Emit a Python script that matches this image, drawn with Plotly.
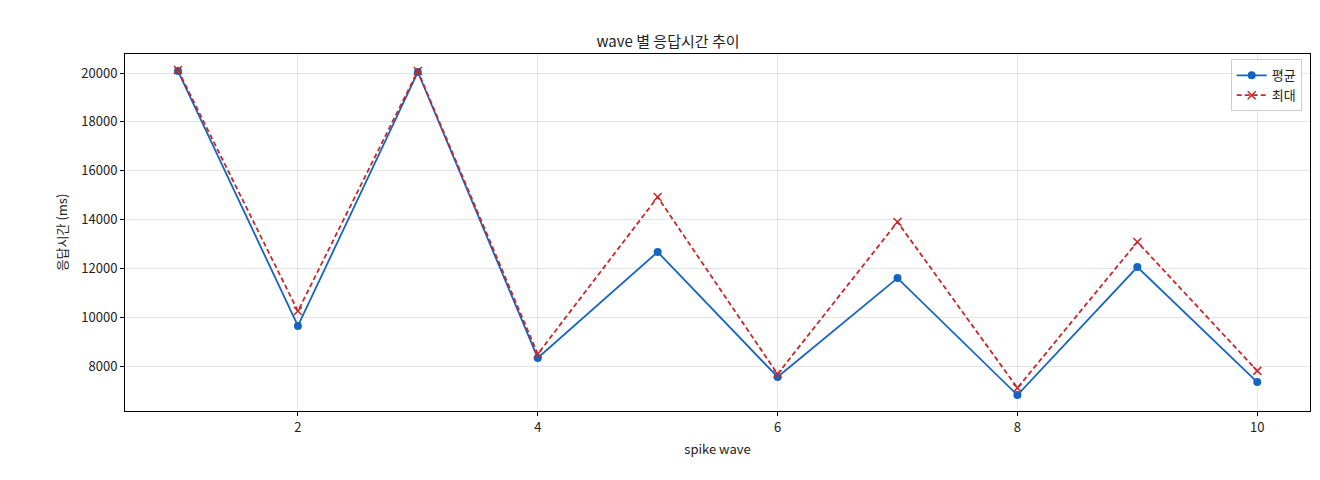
import plotly.graph_objects as go

waves = [1, 2, 3, 4, 5, 6, 7, 8, 9, 10]
avg_ms = [20080, 9640, 20040, 8330, 12670, 7550, 11600, 6810, 12050, 7340]
max_ms = [20120, 10250, 20080, 8490, 14920, 7670, 13900, 7100, 13080, 7800]

fnt = "Noto Sans CJK KR, DejaVu Sans, sans-serif"

fig = go.Figure()
fig.add_trace(go.Scatter(x=waves, y=avg_ms, mode="lines+markers", name="평균",
                         line=dict(color="#1565c0", width=1.8),
                         marker=dict(symbol="circle", size=8, color="#1565c0")))
fig.add_trace(go.Scatter(x=waves, y=max_ms, mode="lines+markers", name="최대",
                         line=dict(color="#c62828", width=1.8, dash="5px,3px"),
                         marker=dict(symbol="x-thin", size=8, line=dict(color="#c62828", width=1.5))))

axis = dict(showline=True, linecolor="black", linewidth=1, mirror=True,
            ticks="outside", ticklen=4, tickcolor="black", automargin=False,
            showgrid=True, gridcolor="rgba(0,0,0,0.1)", zeroline=False,
            tickfont=dict(size=13, color="#222"))
fig.update_xaxes(range=[0.558, 10.44], tickvals=[2, 4, 6, 8, 10],
                 title=dict(text="spike wave", font=dict(size=13), standoff=10), **axis)
fig.update_yaxes(range=[6157, 20778], tickvals=list(range(8000, 20001, 2000)), tickformat="d",
                 title=dict(text="응답시간 (ms)", font=dict(size=13), standoff=10), **axis)
fig.update_layout(
    width=1320, height=480, template="none", font=dict(family=fnt, color="#222"),
    paper_bgcolor="white", plot_bgcolor="white",
    margin=dict(l=117, r=18, t=46, b=77, autoexpand=False),
    title=dict(text="wave 별 응답시간 추이", x=0.5, xanchor="center", y=0.94, font=dict(size=15)),
    legend=dict(x=0.993, y=0.985, xanchor="right", yanchor="top", bordercolor="#ccc",
                borderwidth=1, bgcolor="white", font=dict(size=13)),
)
fig.write_html("out.html")
